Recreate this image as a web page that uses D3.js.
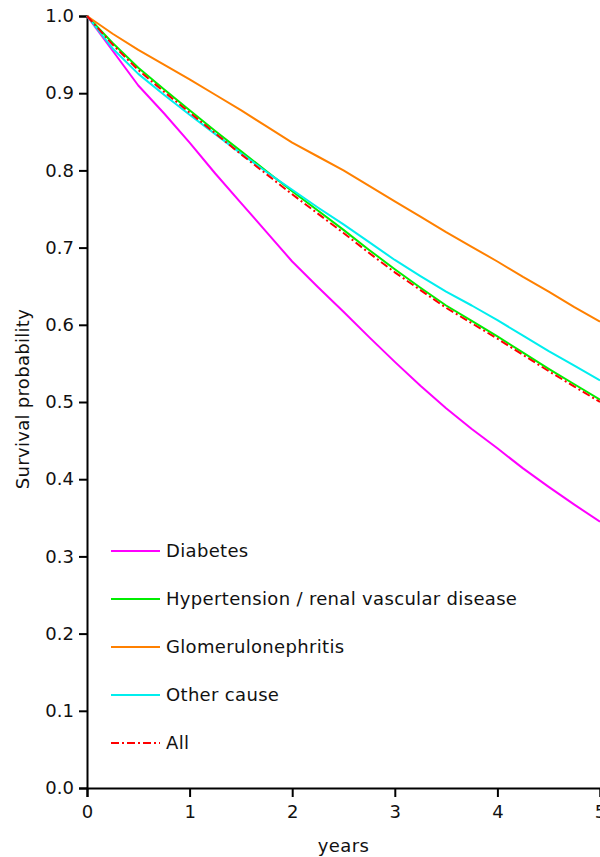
<!DOCTYPE html>
<html>
<head>
<meta charset="utf-8">
<script src="https://cdn.jsdelivr.net/npm/d3@7"></script>
<style>
  html, body { margin: 0; padding: 0; background: #fff; }
  svg { display: block; }
  text { font-family: "DejaVu Sans", Verdana, sans-serif; fill: #111; }
</style>
</head>
<body>
<svg id="chart" width="600" height="857"></svg>
<script>
// ---- data ----
const years = [0, 0.25, 0.5, 0.75, 1, 1.25, 1.5, 1.75, 2, 2.25, 2.5, 2.75, 3, 3.25, 3.5, 3.75, 4, 4.25, 4.5, 4.75, 5];
const diabetes      = [1.0, 0.955, 0.910, 0.874, 0.836, 0.796, 0.758, 0.720, 0.682, 0.649, 0.617, 0.584, 0.552, 0.521, 0.492, 0.465, 0.440, 0.414, 0.390, 0.367, 0.345];
const hypertension  = [1.0, 0.965, 0.933, 0.905, 0.878, 0.851, 0.825, 0.799, 0.773, 0.748, 0.723, 0.697, 0.672, 0.648, 0.625, 0.605, 0.585, 0.564, 0.543, 0.523, 0.503];
const glomerulo     = [1.0, 0.977, 0.956, 0.937, 0.918, 0.898, 0.878, 0.857, 0.836, 0.818, 0.800, 0.780, 0.760, 0.740, 0.720, 0.701, 0.682, 0.662, 0.643, 0.623, 0.604];
const otherCause    = [1.0, 0.958, 0.925, 0.898, 0.872, 0.847, 0.822, 0.798, 0.775, 0.752, 0.730, 0.707, 0.684, 0.663, 0.643, 0.625, 0.606, 0.586, 0.566, 0.547, 0.528];
const allCauses     = [1.0, 0.963, 0.930, 0.902, 0.875, 0.848, 0.821, 0.795, 0.769, 0.744, 0.719, 0.693, 0.668, 0.645, 0.622, 0.602, 0.582, 0.561, 0.540, 0.520, 0.500];
const seriesNames   = ["Diabetes", "Hypertension / renal vascular disease", "Glomerulonephritis", "Other cause", "All"];
const seriesValues  = [diabetes, hypertension, glomerulo, otherCause, allCauses];
const seriesColors  = ["#ff00ff", "#00ee00", "#ff8000", "#00eeee", "#ff0000"];
const seriesDashes  = [null, null, null, null, "8,3,2,3"];
const xTicks = [0, 1, 2, 3, 4, 5];
const yTicks = [0, 0.1, 0.2, 0.3, 0.4, 0.5, 0.6, 0.7, 0.8, 0.9, 1.0];

// ---- layout ----
const svg = d3.select("#chart");
const mLeft = 87, mRight = 600, mTop = 16, mBottom = 788;
const fs = 18;
const x = d3.scaleLinear().domain([0, 5]).range([mLeft, mRight]);
const y = d3.scaleLinear().domain([0, 1]).range([mBottom, mTop]);

// axes
const xAxis = svg.append("g").attr("transform", `translate(0,${mBottom})`)
  .call(d3.axisBottom(x).tickValues(xTicks).tickFormat(d3.format("d")).tickSizeOuter(0).tickSize(9).tickPadding(8));
const yAxis = svg.append("g").attr("transform", `translate(${mLeft},0)`)
  .call(d3.axisLeft(y).tickValues(yTicks).tickFormat(d3.format(".1f")).tickSizeOuter(0).tickSize(8).tickPadding(5));
[xAxis, yAxis].forEach(g => {
  g.select(".domain").attr("stroke", "#000").attr("stroke-width", 2);
  g.selectAll(".tick line").attr("stroke", "#000").attr("stroke-width", 2);
  g.selectAll(".tick text").attr("font-size", fs).attr("font-family", "DejaVu Sans, Verdana, sans-serif").attr("fill", "#111");
});

// axis titles
svg.append("text").attr("x", (mLeft + mRight) / 2).attr("y", 852)
  .attr("text-anchor", "middle").attr("font-size", fs).attr("letter-spacing", 0.4).text("years");
svg.append("text").attr("transform", `translate(29,${(mTop + mBottom) / 2 - 3}) rotate(-90)`)
  .attr("text-anchor", "middle").attr("font-size", fs).attr("letter-spacing", 0.3).text("Survival probability");

// lines
const line = d3.line().x((d, i) => x(years[i])).y(d => y(d));
const plot = svg.append("g");
seriesValues.forEach((vals, k) => {
  plot.append("path").datum(vals)
    .attr("d", line)
    .attr("fill", "none")
    .attr("stroke", seriesColors[k])
    .attr("stroke-width", 2)
    .attr("stroke-dasharray", seriesDashes[k])
    .attr("stroke-linejoin", "round");
});

// legend
const legend = svg.append("g");
seriesNames.forEach((name, k) => {
  const ly = 551 + k * 48;
  legend.append("line").attr("x1", 111).attr("x2", 160).attr("y1", ly).attr("y2", ly)
    .attr("stroke", seriesColors[k]).attr("stroke-width", 2)
    .attr("stroke-dasharray", seriesDashes[k]);
  legend.append("text").attr("x", 166).attr("y", ly).attr("dy", "0.35em")
    .attr("font-size", fs).attr("letter-spacing", 0.33).text(name);
});
</script>
</body>
</html>
